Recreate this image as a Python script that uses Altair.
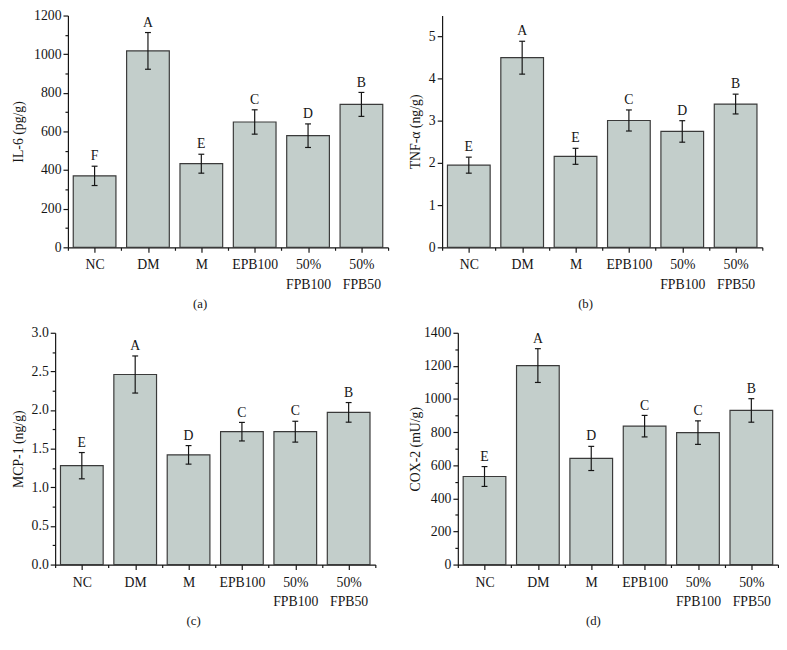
import altair as alt
import pandas as pd

groups = ["NC", "DM", "M", "EPB100", "50%|FPB100", "50%|FPB50"]

il6_mean = [370, 1017, 433, 649, 578, 740]
il6_err = [50, 95, 49, 63, 61, 62]
il6_letters = ["F", "A", "E", "C", "D", "B"]

tnf_mean = [1.95, 4.50, 2.16, 3.01, 2.75, 3.40]
tnf_err = [0.19, 0.39, 0.19, 0.25, 0.255, 0.235]
tnf_letters = ["E", "A", "E", "C", "D", "B"]

mcp_mean = [1.28, 2.46, 1.42, 1.72, 1.72, 1.97]
mcp_err = [0.17, 0.24, 0.12, 0.12, 0.135, 0.127]
mcp_letters = ["E", "A", "D", "C", "C", "B"]

cox_mean = [532, 1202, 641, 836, 797, 931]
cox_err = [60, 102, 73, 65, 71, 71]
cox_letters = ["E", "A", "D", "C", "C", "B"]

FONT = "Liberation Serif"
FILL = "#c3cecb"
EDGE = "#3a3a3a"
INK = "#151515"
PLOT_W = 326
FS = 14

names_js = "[" + ",".join("'" + g + "'" for g in groups) + "]"


def panel(means, errs, letters, ymax, ystep, ymajor, yfmt, ytitle, caption, title_x, shift=0):
    df = pd.DataFrame({"i": list(range(len(groups))), "mean": means,
                       "err": errs, "letter": letters})
    base = alt.Chart(df).transform_calculate(
        x1="datum.i + 0.1", x2="datum.i + 0.9", xc="datum.i + 0.5",
        lo="datum.mean - datum.err", hi="datum.mean + datum.err")
    xscale = alt.Scale(domain=[0, len(groups)], nice=False, zero=False,
                       range=[shift, shift + PLOT_W])
    yscale = alt.Scale(domain=[0, ymax], nice=False)
    nsteps = int(round(ymax / ystep))
    yvals = [round(k * ystep, 4) for k in range(nsteps + 1)]
    xvals = [k * 0.5 for k in range(2 * len(groups) + 1)]
    ytest = "abs(datum.value / %s - round(datum.value / %s)) < 1e-6" % (ymajor, ymajor)
    xaxis = alt.Axis(
        values=xvals, title=None, grid=False,
        labelExpr="(datum.value %% 1 === 0.5) ? split(%s[floor(datum.value)], '|') : ''" % names_js,
        tickSize={"condition": {"test": "datum.value % 1 === 0.5", "value": 5}, "value": 3},
        labelOverlap=False, labelPadding=6, labelLineHeight=20, labelFlush=False,
    )
    yaxis = alt.Axis(
        values=yvals, format=yfmt, title=ytitle, grid=False,
        labelExpr="(%s) ? datum.label : ''" % ytest,
        tickSize={"condition": {"test": ytest, "value": 5}, "value": 3},
        labelOverlap=False, labelPadding=2, labelFlush=False,
        titleX=title_x, titleBaseline="middle", offset=-shift,
    )

    def X(f):
        return alt.X(f, scale=xscale, axis=xaxis)

    def Y(f):
        return alt.Y(f, scale=yscale, axis=yaxis)

    bars = base.mark_bar(fill=FILL, stroke=EDGE, strokeWidth=1.2).encode(
        x=X("x1:Q"), x2="x2:Q", y=Y("mean:Q"), y2=alt.datum(0),
    )
    rule = base.mark_rule(color=INK, strokeWidth=1.2).encode(
        x=X("xc:Q"), y=Y("lo:Q"), y2="hi:Q")
    cap_hi = base.mark_tick(orient="horizontal", size=6, thickness=1.2, color=INK, opacity=1).encode(
        x=X("xc:Q"), y=Y("hi:Q"))
    cap_lo = base.mark_tick(orient="horizontal", size=6, thickness=1.2, color=INK, opacity=1).encode(
        x=X("xc:Q"), y=Y("lo:Q"))
    text = base.mark_text(baseline="bottom", dy=-3, fontSize=FS, font=FONT, color=INK).encode(
        x=X("xc:Q"), y=Y("hi:Q"), text="letter:N")
    return alt.layer(bars, rule, cap_hi, cap_lo, text).properties(
        width=PLOT_W + shift, height=236,
        title=alt.TitleParams(text=caption, orient="bottom", anchor="middle", frame="bounds",
                              fontSize=13, font=FONT, fontWeight="normal", color=INK, offset=7),
    )


pa = panel(il6_mean, il6_err, il6_letters, 1200, 100, 200, "d", "IL-6 (pg/g)", "(a)", -50.5, shift=13)
pb = panel(tnf_mean, tnf_err, tnf_letters, 5.5, 0.5, 1, "d", "TNF-α (ng/g)", "(b)", -27.5)
pc = panel(mcp_mean, mcp_err, mcp_letters, 3.0, 0.25, 0.5, ".1f", "MCP-1 (ng/g)", "(c)", -37.5)
pd_ = panel(cox_mean, cox_err, cox_letters, 1400, 100, 200, "d", "COX-2 (mU/g)", "(d)", -43.5)

chart = alt.concat(
    pa, pb, pc, pd_,
    columns=2, spacing={"row": 15, "column": 19},
    align={"column": "none", "row": "each"},
).properties(
    padding={"left": 3, "top": -5, "right": 0, "bottom": 0}
).configure(font=FONT).configure_view(stroke=None).configure_axis(
    labelFont=FONT, titleFont=FONT, labelFontSize=FS, titleFontSize=FS,
    titleFontWeight="normal", labelColor=INK, titleColor=INK,
    domainColor=INK, tickColor=INK, domainWidth=1.2, tickWidth=1.2,
)

chart.save("out.html", embed_options={"renderer": "svg", "actions": False})
